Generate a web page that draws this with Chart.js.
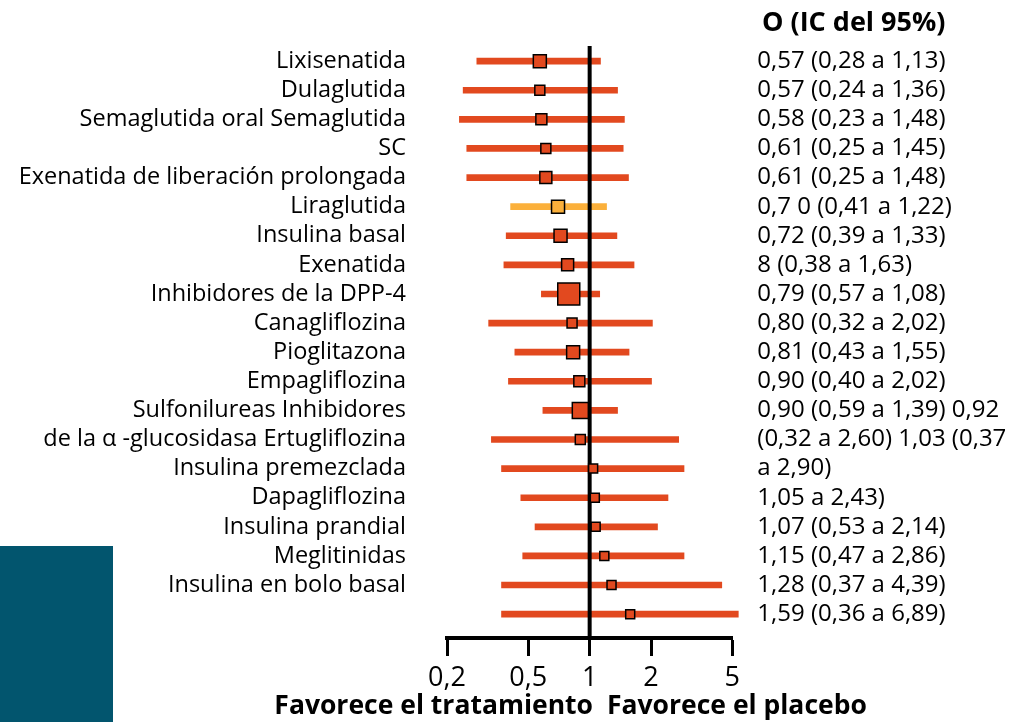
<!DOCTYPE html>
<html>
<head>
<meta charset="utf-8">
<script src="https://cdn.jsdelivr.net/npm/chart.js@4.4.1/dist/chart.umd.min.js"></script>
<style>
  html, body { margin: 0; padding: 0; background: #fff; }
  #marco { position: relative; width: 1023px; height: 722px; }
  #grafico { position: absolute; left: 0; top: 0; }
  #bloque { position: absolute; left: 0; top: 546px; width: 113px; height: 176px; background: #02556E; }
</style>
</head>
<body>
<div id="marco">
  <canvas id="grafico" width="1023" height="722"></canvas>
  <div id="bloque"></div>
</div>
<script>
// filas del forest plot (la ultima no tiene etiqueta en el original)
const farmacos = [
  'Lixisenatida', 'Dulaglutida', 'Semaglutida oral Semaglutida', 'SC',
  'Exenatida de liberación prolongada', 'Liraglutida', 'Insulina basal', 'Exenatida',
  'Inhibidores de la DPP-4', 'Canagliflozina', 'Pioglitazona', 'Empagliflozina',
  'Sulfonilureas Inhibidores', 'de la α -glucosidasa Ertugliflozina', 'Insulina premezclada',
  'Dapagliflozina', 'Insulina prandial', 'Meglitinidas', 'Insulina en bolo basal', ''
];
const orEstimado = [0.57, 0.57, 0.58, 0.61, 0.61, 0.70, 0.72, 0.78, 0.79, 0.82,
                    0.83, 0.89, 0.90, 0.90, 1.04, 1.06, 1.07, 1.18, 1.28, 1.58];
const icInferior = [0.28, 0.24, 0.23, 0.25, 0.25, 0.41, 0.39, 0.38, 0.58, 0.32,
                    0.43, 0.40, 0.59, 0.33, 0.37, 0.46, 0.54, 0.47, 0.37, 0.37];
const icSuperior = [1.13, 1.37, 1.48, 1.46, 1.55, 1.21, 1.36, 1.65, 1.12, 2.03,
                    1.56, 2.01, 1.37, 2.73, 2.90, 2.42, 2.15, 2.90, 4.44, 5.35];
// peso relativo de cada estudio (tamaño del cuadrado)
const peso = [13, 10, 11, 10, 12, 13, 13, 12, 22, 10, 13, 11, 16, 10, 9, 9, 9, 9, 9, 9];
const textoIC = [
  '0,57 (0,28 a 1,13)', '0,57 (0,24 a 1,36)', '0,58 (0,23 a 1,48)', '0,61 (0,25 a 1,45)',
  '0,61 (0,25 a 1,48)', '0,7 0 (0,41 a 1,22)', '0,72 (0,39 a 1,33)', '8 (0,38 a 1,63)',
  '0,79 (0,57 a 1,08)', '0,80 (0,32 a 2,02)', '0,81 (0,43 a 1,55)', '0,90 (0,40 a 2,02)',
  '0,90 (0,59 a 1,39) 0,92', '(0,32 a 2,60) 1,03 (0,37', 'a 2,90)', '1,05 a 2,43)',
  '1,07 (0,53 a 2,14)', '1,15 (0,47 a 2,86)', '1,28 (0,37 a 4,39)', '1,59 (0,36 a 6,89)'
];
const ticksX = [0.2, 0.5, 1, 2, 5];
const filaDestacada = 5; // Liraglutida en amarillo

const naranja = '#E2491F';
const amarillo = '#FBB03B';
const fuente = "'Open Sans', 'Noto Sans', sans-serif";

function colorFila(i) {
  return i === filaDestacada ? amarillo : naranja;
}

function sinRelleno(s) {
  s.paddingTop = 0;
  s.paddingBottom = 0;
  s.paddingLeft = 0;
  s.paddingRight = 0;
}

const filas = farmacos.map((f, i) => i);

const textosExtra = {
  id: 'textosExtra',
  afterDraw(chart) {
    const ctx = chart.ctx;
    ctx.save();
    ctx.fillStyle = '#000';
    ctx.textBaseline = 'middle';
    ctx.font = 'bold 27px ' + fuente;
    ctx.textAlign = 'left';
    ctx.fillText('O (IC del 95%)', 762, 23);
    ctx.font = 'bold 26.5px ' + fuente;
    ctx.textAlign = 'right';
    ctx.fillText('Favorece el tratamiento', 593, 706);
    ctx.textAlign = 'left';
    ctx.fillText('Favorece el placebo', 607, 706);
    ctx.restore();
  }
};

const ctxGrafico = document.querySelector('#grafico');
const forest = new Chart(ctxGrafico, {
  data: {
    datasets: [
      {
        type: 'bar',
        indexAxis: 'y',
        data: filas.map(i => ({ x: [icInferior[i], icSuperior[i]], y: i })),
        backgroundColor: filas.map(colorFila),
        barThickness: 6,
        clip: false,
        xAxisID: 'x',
        yAxisID: 'y',
        order: 3
      },
      {
        type: 'line',
        data: [{ x: 1, y: -0.52 }, { x: 1, y: 19.82 }],
        borderColor: '#000',
        borderWidth: 4,
        pointRadius: 0,
        xAxisID: 'x',
        yAxisID: 'y',
        order: 2
      },
      {
        type: 'scatter',
        data: filas.map(i => ({ x: orEstimado[i], y: i })),
        pointStyle: 'rect',
        pointRadius: ctx => peso[ctx.dataIndex] / Math.SQRT2,
        backgroundColor: filas.map(colorFila),
        borderColor: '#000',
        borderWidth: 1.5,
        xAxisID: 'x',
        yAxisID: 'y',
        order: 1
      }
    ]
  },
  options: {
    responsive: false,
    animation: false,
    layout: { padding: { top: 46, left: 0, right: 0, bottom: 0 } },
    plugins: {
      legend: { display: false },
      tooltip: { enabled: false }
    },
    scales: {
      y: {
        type: 'linear',
        position: 'left',
        reverse: true,
        offset: false,
        min: -0.52,
        max: 19.82,
        afterBuildTicks: s => { s.ticks = filas.map(i => ({ value: i })); },
        afterFit: s => { s.width = 447; sinRelleno(s); },
        ticks: {
          autoSkip: false,
          padding: 41,
          color: '#000',
          font: { family: fuente, size: 23.5 },
          callback: v => farmacos[v]
        },
        grid: { display: false, drawTicks: false, offset: false },
        border: { display: false }
      },
      y2: {
        type: 'linear',
        position: 'right',
        reverse: true,
        offset: false,
        min: -0.52,
        max: 19.82,
        afterBuildTicks: s => { s.ticks = filas.map(i => ({ value: i })); },
        afterFit: s => { s.width = 1023 - 732.3; sinRelleno(s); },
        ticks: {
          autoSkip: false,
          padding: 25,
          color: '#000',
          font: { family: fuente, size: 24 },
          callback: v => textoIC[v]
        },
        grid: { display: false, drawTicks: false },
        border: { display: false }
      },
      x: {
        type: 'logarithmic',
        position: 'bottom',
        min: 0.2,
        max: 5,
        afterBuildTicks: s => { s.ticks = ticksX.map(v => ({ value: v })); },
        afterFit: s => { s.height = 722 - 638; sinRelleno(s); },
        ticks: {
          autoSkip: false,
          maxRotation: 0,
          padding: 6,
          color: '#000',
          font: { family: fuente, size: 27 },
          callback: v => String(v).replace('.', ',')
        },
        grid: {
          drawOnChartArea: false,
          tickLength: 18,
          tickWidth: 3,
          tickColor: '#000'
        },
        border: { display: true, color: '#000', width: 4 }
      }
    }
  },
  plugins: [textosExtra]
});
</script>
</body>
</html>
